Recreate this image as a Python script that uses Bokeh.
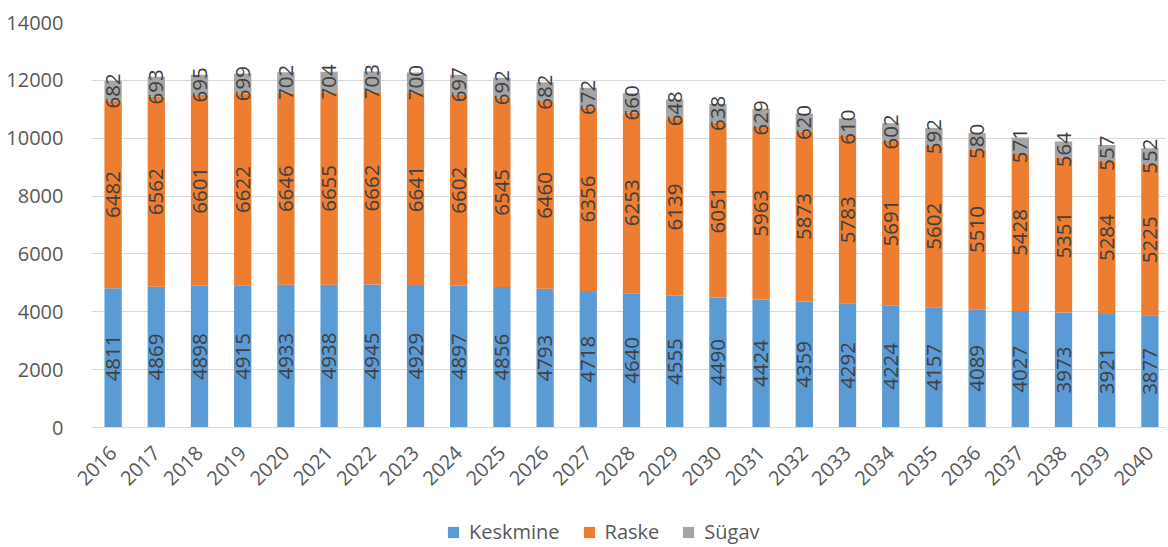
import math
from bokeh.plotting import figure
from bokeh.models import Range1d, FixedTicker, Legend, LegendItem, ColumnDataSource
from bokeh.layouts import column
from bokeh.core.properties import value
from bokeh.embed import file_html
from bokeh.resources import INLINE

years = list(range(2016, 2041))
keskmine = [4811, 4869, 4898, 4915, 4933, 4938, 4945, 4929, 4897, 4856, 4793, 4718, 4640,
            4555, 4490, 4424, 4359, 4292, 4224, 4157, 4089, 4027, 3973, 3921, 3877]
raske = [6482, 6562, 6601, 6622, 6646, 6655, 6662, 6641, 6602, 6545, 6460, 6356, 6253,
         6139, 6051, 5963, 5873, 5783, 5691, 5602, 5510, 5428, 5351, 5284, 5225]
sugav = [682, 693, 695, 699, 702, 704, 703, 700, 697, 692, 682, 672, 660,
         648, 638, 629, 620, 610, 602, 592, 580, 571, 564, 557, 552]
series = ["Keskmine", "Raske", "Sügav"]
colors = ["#5B9BD5", "#ED7D31", "#A5A5A5"]
y_ticks = [0, 2000, 4000, 6000, 8000, 10000, 12000, 14000]

FONT = "Open Sans"
W = 1166

src = ColumnDataSource(dict(x=years, Keskmine=keskmine, Raske=raske, Sügav=sugav))

p = figure(width=W, height=500, output_backend="svg", toolbar_location=None,
           x_range=Range1d(2015.5, 2040.384), y_range=Range1d(0, 14000),
           min_border_left=91, min_border_right=0, min_border_top=22, min_border_bottom=73)
p.outline_line_color = None

rs = p.vbar_stack(series, x="x", width=0.4, color=colors, line_color=None, source=src)

# data labels centred in each segment
lx, ly, lt = [], [], []
for i, yr in enumerate(years):
    base = 0
    for vals in (keskmine, raske, sugav):
        v = vals[i]
        lx.append(yr)
        ly.append(base + v / 2)
        lt.append(str(v))
        base += v
p.text(x=lx, y=ly, text=lt, angle=math.pi / 2, text_align="center", text_baseline="middle",
       text_font=value(FONT), text_font_size="20.5px", text_color="#404040")

p.xaxis.ticker = FixedTicker(ticks=years)
p.xaxis.major_label_orientation = math.pi / 4
p.yaxis.ticker = FixedTicker(ticks=y_ticks)
for ax in (p.xaxis, p.yaxis):
    ax.major_tick_line_color = None
    ax.minor_tick_line_color = None
    ax.major_label_text_font = FONT
    ax.major_label_text_font_size = "20px"
    ax.major_label_text_color = "#595959"
p.yaxis.axis_line_color = None
p.yaxis.major_label_standoff = 22
p.xaxis.axis_line_color = "#D9D9D9"
p.xaxis.major_label_standoff = 16
p.xgrid.grid_line_color = None
p.ygrid.grid_line_color = "#D9D9D9"
p.ygrid.ticker = FixedTicker(ticks=y_ticks)

# legend strip underneath (same data, y-range chosen so the bars stay out of view)
lf = figure(width=W, height=45, output_backend="svg", toolbar_location=None,
            x_range=Range1d(2015.5, 2040.384), y_range=Range1d(1e6, 2e6),
            min_border_left=91, min_border_right=0, min_border_top=19, min_border_bottom=0)
lf.axis.visible = False
lf.grid.visible = False
lf.outline_line_color = None
lrs = lf.vbar_stack(series, x="x", width=0.4, color=colors, line_color=None, source=src)
legend = Legend(items=[LegendItem(label=s, renderers=[r]) for s, r in zip(series, lrs)],
                orientation="horizontal", location=(355, 0),
                label_text_font=FONT, label_text_font_size="20px", label_text_color="#595959",
                glyph_width=14, glyph_height=14, label_standoff=9, spacing=22,
                border_line_color=None, background_fill_alpha=0, padding=0, margin=0)
lf.add_layout(legend, "center")

layout = column(p, lf, spacing=0)
open("out.html", "w").write(file_html(layout, INLINE))
